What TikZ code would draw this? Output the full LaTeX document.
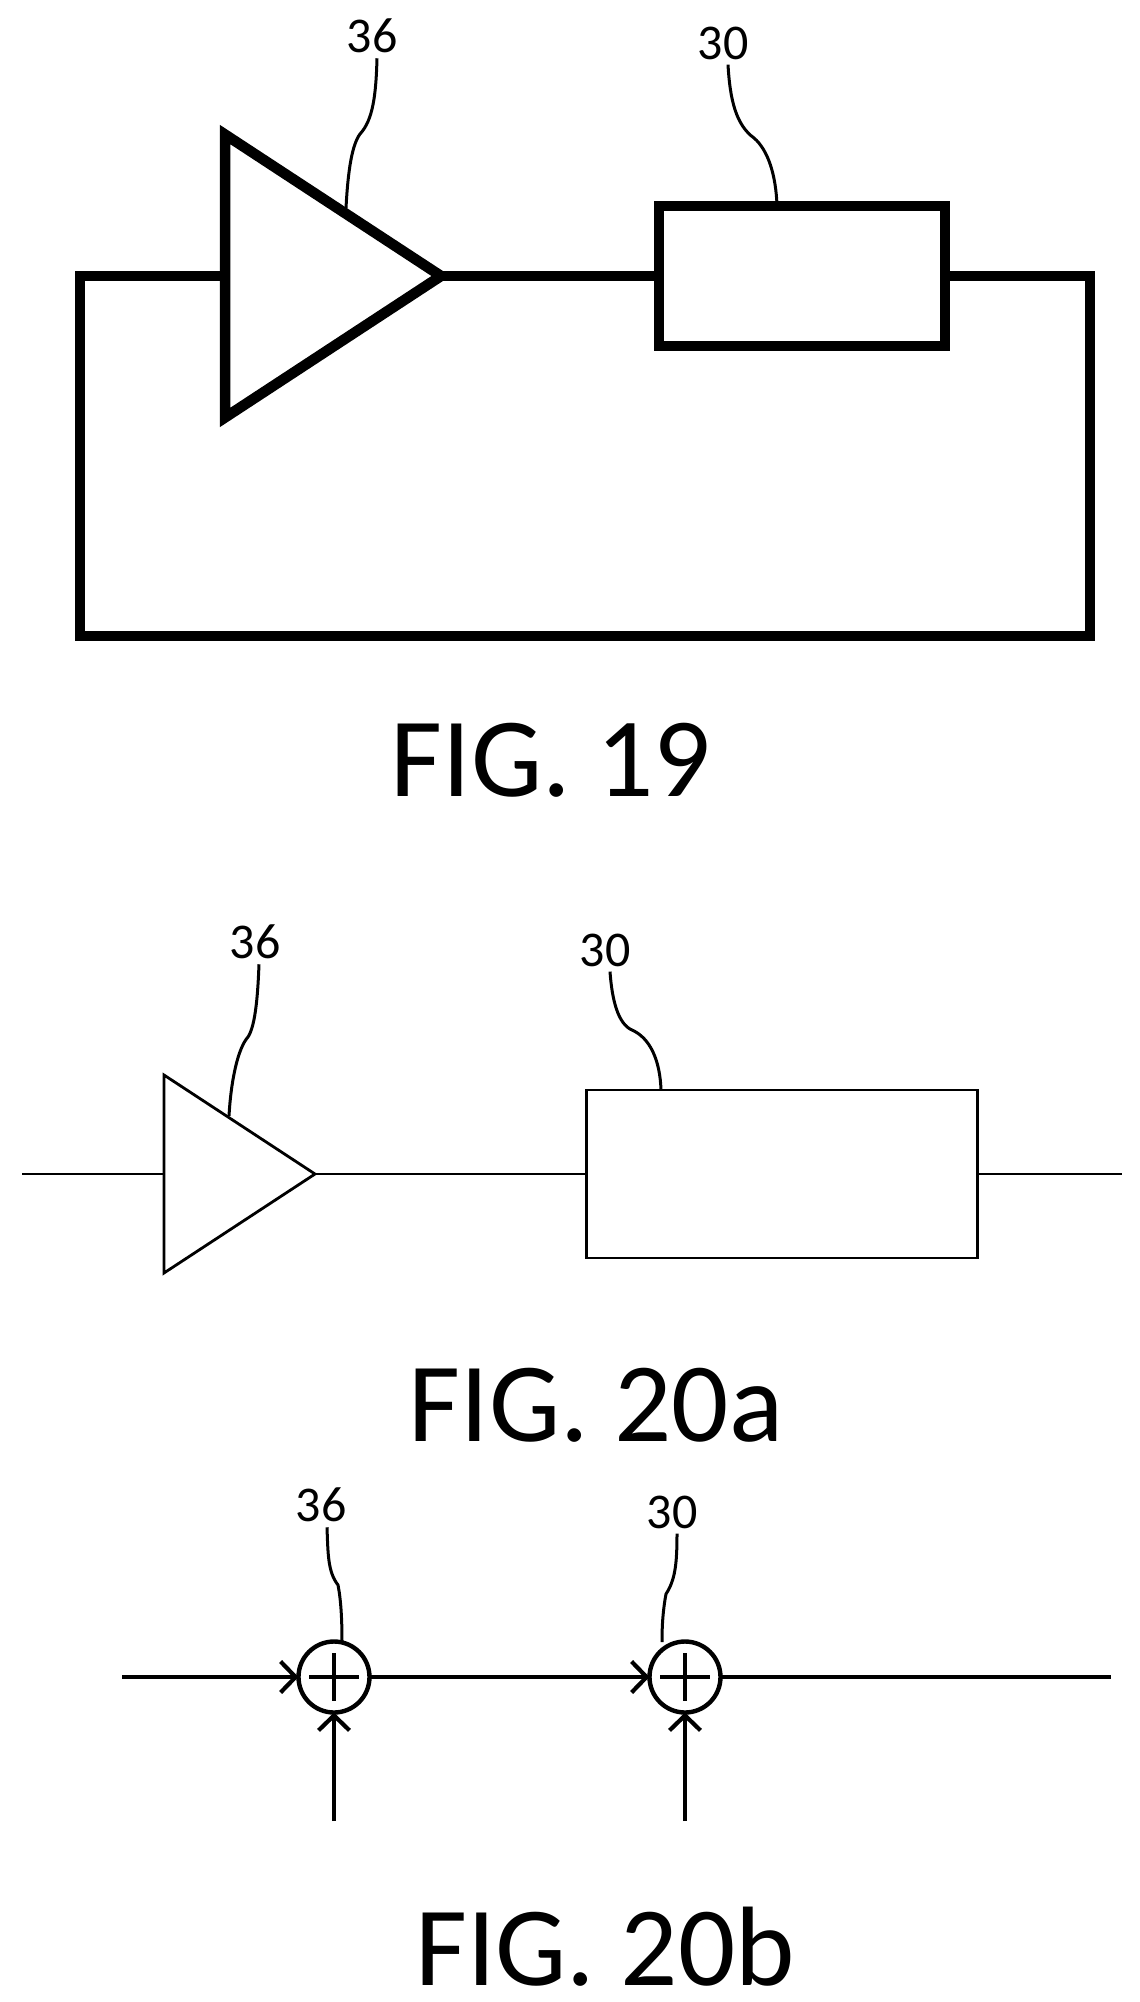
\documentclass[tikz,border=0pt]{standalone}
\usepackage{fontspec}
\setmainfont{Carlito}
\usetikzlibrary{shapes.geometric,arrows.meta,calc}

\begin{document}
\begin{tikzpicture}
  [
    x=1pt, y=-1pt,
    amp/.style =
      {draw, isosceles triangle, isosceles triangle stretches, shape border rotate=0,
       inner sep=0pt, outer sep=0pt, anchor=west},
    block/.style =
      {draw, rectangle, inner sep=0pt, outer sep=0pt},
    adder/.style =
      {draw, circle, line width=4.4pt, minimum size=71pt, inner sep=0pt, outer sep=0pt},
    reflabel/.style =
      {font=\fontsize{50}{50}\selectfont, inner sep=5pt},
    figlabel/.style =
      {font=\fontsize{113}{113}\selectfont, inner sep=0pt, anchor=base},
    leader/.style =
      {line width=3pt},
    thickw/.style =
      {line width=10.5pt},
    thinw/.style =
      {line width=2.8pt},
    midw/.style =
      {line width=4.2pt},
    sarrow/.style =
      {line width=4.2pt, -{Straight Barb[length=15pt,width=31pt,line width=4.2pt]}}
  ]

\useasboundingbox (0,0) rectangle (1140,2002);

% FIG. 19
\node[amp, thickw, minimum width=283pt, minimum height=216pt] (amp19) at (225,276) {};
\node[block, thickw, minimum width=286pt, minimum height=140pt] (box19) at (802,276) {};
\coordinate (se19) at (1090,636);
\coordinate (sw19) at (80,636);
\draw [thickw] (amp19.apex) -- (box19.west);
\draw [thickw] (box19.east) -| (se19) -- (sw19) |- (amp19.west);

\node[reflabel] (n36a) at (372,36) {36};
\node[reflabel] (n30a) at (723,43) {30};
\coordinate (t36a) at (346,208);
\draw [leader] ($(n36a.south)+(5,0)$) .. controls (376,95) and (373,120) .. (360,134)
  .. controls (352,145) and (348,170) .. (t36a);
\draw [leader] ($(n30a.south)+(5,0)$) .. controls (730,100) and (736,125) .. (754,138)
  .. controls (768,150) and (776,175) .. (box19.north -| 777,0);

\node[figlabel] (f19) at (551,796) {FIG. 19};

% FIG. 20a
\node[amp, thinw, minimum width=198pt, minimum height=151pt] (amp20a) at (164,1174) {};
\node[block, thinw, minimum width=391pt, minimum height=168pt] (box20a) at (782,1174) {};
\coordinate (in20a) at (22,1174);
\coordinate (out20a) at (1122,1174);
\draw [thinw] (in20a) -- (amp20a.west);
\draw [thinw] (amp20a.apex) -- (box20a.west);
\draw [thinw] (box20a.east) -- (out20a);

\node[reflabel] (n36b) at (255,942) {36};
\node[reflabel] (n30b) at (605,950) {30};
\coordinate (t36b) at (229,1116);
\draw [leader] ($(n36b.south)+(4,0)$) .. controls (258,990) and (256,1025) .. (248,1037)
  .. controls (238,1048) and (231,1080) .. (t36b);
\draw [leader] ($(n30b.south)+(5,0)$) .. controls (612,1000) and (618,1024) .. (632,1030)
  .. controls (650,1038) and (660,1060) .. (box20a.north -| 661,0);

\node[figlabel] (f20a) at (596,1441) {FIG. 20a};

% FIG. 20b
\node[adder] (add1) at (334,1677) {};
\node[adder] (add2) at (685,1677) {};
\coordinate (in20b) at (122,1677);
\coordinate (out20b) at (1111,1677);
\coordinate (up1) at (334,1821);
\coordinate (up2) at (685,1821);
\draw [sarrow] (in20b) -- (add1.west);
\draw [sarrow] (add1.east) -- (add2.west);
\draw [midw] (add2.east) -- (out20b);
\draw [sarrow] (up1) -- (add1.south);
\draw [sarrow] (up2) -- (add2.south);

% plus signs
\draw [midw] ($(add1)+(-25,0)$) -- ($(add1)+(25,0)$);
\draw [midw] ($(add1)+(0,-24)$) -- ($(add1)+(0,24)$);
\draw [midw] ($(add2)+(-25,0)$) -- ($(add2)+(25,0)$);
\draw [midw] ($(add2)+(0,-24)$) -- ($(add2)+(0,24)$);

\node[reflabel] (n36c) at (321,1505) {36};
\node[reflabel] (n30c) at (672,1512) {30};
\draw [leader] ($(n36c.south)+(6,0)$) .. controls (328,1555) and (328,1572) .. (338,1585)
  .. controls (341,1600) and (342,1620) .. (add1.north -| 342,0);
\draw [leader] ($(n30c.south)+(5,0)$) .. controls (677,1565) and (675,1580) .. (666,1594)
  .. controls (663,1610) and (662,1625) .. (662,1642);

\node[figlabel] (f20b) at (605,1985) {FIG. 20b};
\end{tikzpicture}
\end{document}
